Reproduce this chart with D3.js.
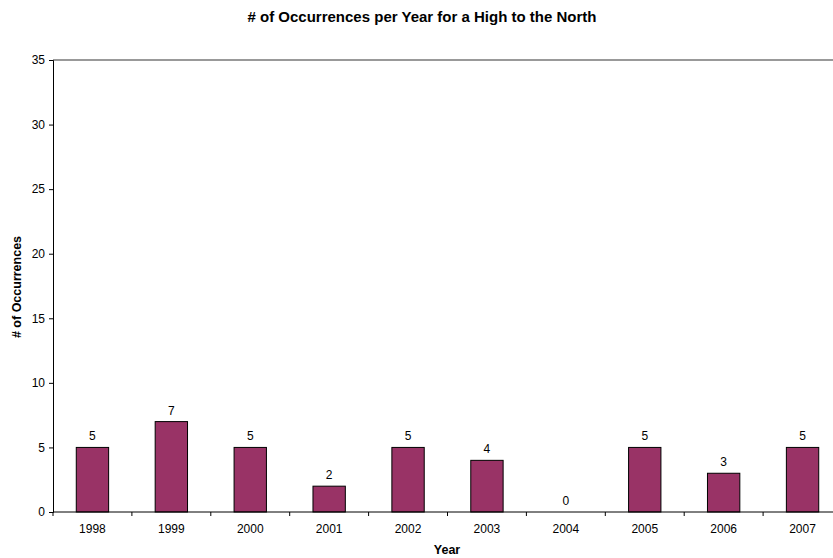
<!DOCTYPE html>
<html>
<head>
<meta charset="utf-8">
<script src="https://cdn.jsdelivr.net/npm/d3@7"></script>
<style>
  body { margin: 0; background: #fff; }
  svg { display: block; font-family: Arial, "Liberation Sans", sans-serif; }
</style>
</head>
<body>
<svg id="chart" width="833" height="558"></svg>
<script>
// Occurrences of a high to the north, by year
const years = ["1998", "1999", "2000", "2001", "2002", "2003", "2004", "2005", "2006", "2007"];
const occurrences = [5, 7, 5, 2, 5, 4, 0, 5, 3, 5];
const yTicks = [0, 5, 10, 15, 20, 25, 30, 35];

const svg = d3.select("#chart");
const margin = { left: 53, top: 60, right: 842, bottom: 512 };

const x = d3.scaleBand().domain(years).range([margin.left, margin.right]).paddingInner(0).paddingOuter(0);
const y = d3.scaleLinear().domain([0, 35]).range([margin.bottom, margin.top]);

// top border of the plot area
svg.append("line")
  .attr("x1", margin.left).attr("x2", 833)
  .attr("y1", y(35)).attr("y2", y(35))
  .attr("stroke", "#999").attr("stroke-width", 2);

// bars
const barW = x.bandwidth() * 0.41;
svg.append("g").selectAll("rect").data(years).join("rect")
  .attr("x", (d) => x(d) + (x.bandwidth() - barW) / 2)
  .attr("y", (d, i) => y(occurrences[i]))
  .attr("width", barW)
  .attr("height", (d, i) => y(0) - y(occurrences[i]))
  .attr("fill", "#993366")
  .attr("stroke", "#000")
  .attr("stroke-width", 1);

// value labels
svg.append("g").selectAll("text").data(years).join("text")
  .attr("x", (d) => x(d) + x.bandwidth() / 2)
  .attr("y", (d, i) => y(occurrences[i]) - 7)
  .attr("text-anchor", "middle")
  .attr("font-size", 12)
  .attr("fill", "#000")
  .text((d, i) => occurrences[i]);

// y axis
const yAxis = svg.append("g")
  .attr("transform", `translate(${margin.left},0)`)
  .call(d3.axisLeft(y).tickValues(yTicks).tickSize(4).tickPadding(4));
yAxis.select(".domain").attr("stroke", "#000");
yAxis.selectAll(".tick line").attr("stroke", "#000");
yAxis.selectAll("text").attr("font-size", 12).attr("fill", "#000").attr("font-family", "Arial, 'Liberation Sans', sans-serif");

// x axis: ticks at category boundaries
const boundaries = years.map((d) => x(d)).concat([margin.right]);
svg.append("line")
  .attr("x1", margin.left).attr("x2", 833)
  .attr("y1", y(0)).attr("y2", y(0))
  .attr("stroke", "#000");
svg.append("g").selectAll("line").data(boundaries).join("line")
  .attr("x1", (d) => d).attr("x2", (d) => d)
  .attr("y1", y(0)).attr("y2", y(0) + 4)
  .attr("stroke", "#000");
svg.append("g").selectAll("text").data(years).join("text")
  .attr("x", (d) => x(d) + x.bandwidth() / 2)
  .attr("y", y(0) + 21)
  .attr("text-anchor", "middle")
  .attr("font-size", 12)
  .attr("fill", "#000")
  .text((d) => d);

// titles
svg.append("text")
  .attr("x", 422).attr("y", 22)
  .attr("text-anchor", "middle")
  .attr("font-size", 15).attr("font-weight", "bold")
  .text("# of Occurrences per Year for a High to the North");

svg.append("text")
  .attr("x", 447).attr("y", 554)
  .attr("text-anchor", "middle")
  .attr("font-size", 12.5).attr("font-weight", "bold")
  .text("Year");

svg.append("text")
  .attr("transform", "translate(21,287) rotate(-90)")
  .attr("text-anchor", "middle")
  .attr("font-size", 12.5).attr("font-weight", "bold")
  .text("# of Occurrences");
</script>
</body>
</html>
